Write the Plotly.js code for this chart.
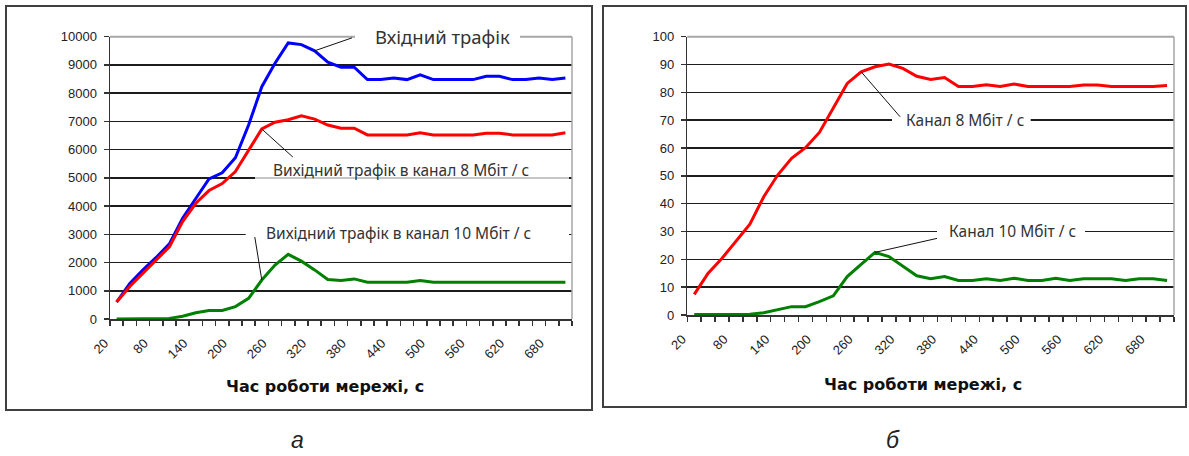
<!DOCTYPE html>
<html><head><meta charset="utf-8">
<script src="https://cdn.plot.ly/plotly-3.0.1.min.js"></script>
<style>html,body{margin:0;padding:0;background:#fff;} #chart{width:1189px;height:456px;}</style>
</head><body><div id="chart"></div>
<script>
// ---- data ----
const time = [20,40,60,80,100,120,140,160,180,200,220,240,260,280,300,320,340,360,380,400,420,440,460,480,500,520,540,560,580,600,620,640,660,680,700];
const xTickVals = [20,80,140,200,260,320,380,440,500,560,620,680];
const xTickText = ["20","80","140","200","260","320","380","440","500","560","620","680"];
// panel а: traffic
const inputTraffic = [600,1260,1740,2180,2660,3570,4270,4960,5180,5710,6870,8230,9060,9780,9720,9500,9100,8920,8920,8480,8480,8540,8480,8650,8480,8480,8480,8480,8600,8600,8480,8480,8540,8480,8540];
const out8Traffic  = [600,1150,1620,2090,2560,3450,4100,4550,4800,5220,5990,6730,6970,7060,7200,7080,6870,6760,6760,6520,6520,6520,6520,6600,6520,6520,6520,6520,6580,6580,6520,6520,6520,6520,6600];
const out10Traffic = [0,0,0,0,20,100,220,300,300,440,730,1380,1910,2290,2050,1740,1400,1360,1420,1300,1300,1300,1300,1360,1300,1300,1300,1300,1300,1300,1300,1300,1300,1300,1300];
// panel б: channel load
const load8  = [7.4,15,20.4,26.6,32.6,42.5,50.3,56.3,60.1,65.6,74.3,83.2,87.4,89.2,90.2,88.6,85.8,84.6,85.3,82.1,82.1,82.7,82.1,83,82.1,82.1,82.1,82.1,82.6,82.6,82.1,82.1,82.1,82.1,82.5];
const load10 = [0.2,0.2,0.2,0.2,0.3,0.8,2,3,3,4.8,6.9,13.8,18.2,22.5,21,17.6,14.1,13,13.8,12.4,12.4,13,12.4,13.2,12.4,12.4,13.2,12.4,13,13,13,12.4,13,13,12.4];

const W = 1189, H = 456;
const px = x => x / W;
const py = y => 1 - y / H;
const bounds = time.map(t => t - 10).concat([time[time.length-1] + 10]);

const TICKFONT = {family: 'Liberation Sans, Arial, sans-serif', size: 13, color: '#222'};
const ANNFONT = {family: 'Noto Sans, sans-serif', size: 15.5, color: '#333'};

function xAxis(domain, anchor) {
  return {
    domain: domain, anchor: anchor, range: [bounds[0], bounds[bounds.length-1]],
    tickmode: 'array', tickvals: xTickVals, ticktext: xTickText, tickangle: -45,
    ticks: '', showgrid: false, zeroline: false,
    showline: true, linecolor: '#333', linewidth: 1.5,
    minor: {tickmode: 'array', tickvals: bounds, ticks: 'outside', ticklen: 5, tickcolor: '#333', tickwidth: 1.5, showgrid: false},
    tickfont: TICKFONT, ticklabelshift: -12, ticklabelstandoff: 10, fixedrange: true
  };
}
function yAxis(domain, anchor, range, dtick) {
  return {
    domain: domain, anchor: anchor, range: range, tick0: 0, dtick: dtick, tickformat: 'd',
    ticks: 'outside', ticklen: 5, tickcolor: '#333', tickwidth: 1.5,
    showgrid: true, gridcolor: '#1c1c1c', gridwidth: 1.5, zeroline: false,
    showline: true, linecolor: '#333', linewidth: 1.5,
    tickfont: TICKFONT, ticklabelstandoff: 4, fixedrange: true
  };
}

const traces = [
  {x: time, y: inputTraffic, xaxis: 'x', yaxis: 'y', mode: 'lines', line: {color: '#0000FF', width: 3}, hoverinfo: 'skip'},
  {x: time, y: out8Traffic,  xaxis: 'x', yaxis: 'y', mode: 'lines', line: {color: '#FF0000', width: 3}, hoverinfo: 'skip'},
  {x: time, y: out10Traffic, xaxis: 'x', yaxis: 'y', mode: 'lines', line: {color: '#008000', width: 3}, hoverinfo: 'skip'},
  {x: time, y: load8,  xaxis: 'x2', yaxis: 'y2', mode: 'lines', line: {color: '#FF0000', width: 3}, hoverinfo: 'skip'},
  {x: time, y: load10, xaxis: 'x2', yaxis: 'y2', mode: 'lines', line: {color: '#008000', width: 3}, hoverinfo: 'skip'}
];

function hline(x0, x1, y, color, w) {
  return {type: 'line', xref: 'paper', yref: 'paper', x0: px(x0), x1: px(x1), y0: py(y), y1: py(y), line: {color: color, width: w}, layer: 'above'};
}
function vline(x, y0, y1, color, w) {
  return {type: 'line', xref: 'paper', yref: 'paper', x0: px(x), x1: px(x), y0: py(y0), y1: py(y1), line: {color: color, width: w}, layer: 'above'};
}
function mask(x0, x1, y0, y1, fill) {
  return {type: 'rect', xref: 'paper', yref: 'paper', x0: px(x0), x1: px(x1), y0: py(y1), y1: py(y0), line: {width: 0}, fillcolor: fill || '#FFFFFF', layer: 'above'};
}
function leader(xr, yr, xv, yv, dx, dy) {
  return {type: 'line', xref: xr, yref: yr, xsizemode: 'pixel', ysizemode: 'pixel', xanchor: xv, yanchor: yv,
          x0: 0, y0: 0, x1: dx, y1: dy, line: {color: '#111', width: 1}, layer: 'above'};
}
function label(x, y, text, font, xanchor) {
  return {xref: 'paper', yref: 'paper', x: px(x), y: py(y), text: text, showarrow: false,
          xanchor: xanchor || 'left', yanchor: 'middle', font: font, borderpad: 0, borderwidth: 0};
}

const shapes = [
  // plot-area top/right borders (grey)
  hline(110, 572, 36.7, '#a6a6a6', 2),
  vline(572, 36.7, 319, '#a6a6a6', 1.5),
  hline(687.3, 1174, 36.7, '#a6a6a6', 2),
  vline(1174, 36.7, 315, '#a6a6a6', 1.5),
  // label backgrounds
  mask(355, 520, 31, 43),
  mask(255, 569, 158, 176),
  mask(255, 569, 176, 180.5, 'rgba(255,255,255,0.75)'),
  mask(245.7, 569, 224, 244),
  mask(892, 1030.7, 111, 129),
  mask(937, 1085, 222, 241),
  // leader lines
  leader('x', 'y', time[15], inputTraffic[15], 37.5, 13),
  leader('x', 'y', time[11], out8Traffic[11], 31, -28),
  leader('x', 'y', time[11], out10Traffic[11], -7, 43),
  leader('x2', 'y2', time[12], load8[12], 39, -45),
  leader('x2', 'y2', time[13], load10[13], 62, 14),
  // panel frames
  {type: 'rect', xref: 'paper', yref: 'paper', x0: px(6), x1: px(592), y0: py(410), y1: py(6), line: {color: '#404040', width: 2}, layer: 'above'},
  {type: 'rect', xref: 'paper', yref: 'paper', x0: px(603), x1: px(1186), y0: py(407), y1: py(6), line: {color: '#404040', width: 2}, layer: 'above'}
];

const TITLEFONT = {family: 'DejaVu Sans, sans-serif', size: 16, color: '#111', weight: 'bold'};
const annotations = [
  label(442, 37, 'Вхідний трафік', {family: 'Noto Sans, sans-serif', size: 18.5, color: '#333'}, 'center'),
  label(273, 170, 'Вихідний трафік в канал 8 Мбіт / с', ANNFONT),
  label(266, 233.3, 'Вихідний трафік в канал 10 Мбіт / с', ANNFONT),
  label(906, 120, 'Канал 8 Мбіт / с', ANNFONT),
  label(949, 231, 'Канал 10 Мбіт / с', ANNFONT),
  label(325, 386, 'Час роботи мережі, с', TITLEFONT, 'center'),
  label(923, 384, 'Час роботи мережі, с', TITLEFONT, 'center'),
  label(297, 440, 'а', {family: 'Liberation Sans, Arial, sans-serif', size: 23, color: '#222', style: 'italic'}, 'center'),
  label(893, 440, 'б', {family: 'Liberation Sans, Arial, sans-serif', size: 23, color: '#222', style: 'italic'}, 'center')
];

const layout = {
  width: W, height: H, margin: {l: 0, r: 0, t: 0, b: 0, pad: 0},
  paper_bgcolor: '#FFFFFF', plot_bgcolor: '#FFFFFF', showlegend: false,
  xaxis: xAxis([px(110), px(572)], 'y'),
  yaxis: yAxis([py(319), py(36.7)], 'x', [0, 10000], 1000),
  xaxis2: xAxis([px(687.3), px(1174)], 'y2'),
  yaxis2: yAxis([py(315), py(36.7)], 'x2', [0, 100], 10),
  shapes: shapes, annotations: annotations
};

Plotly.newPlot('chart', traces, layout, {staticPlot: true, displayModeBar: false});
</script>
</body></html>
